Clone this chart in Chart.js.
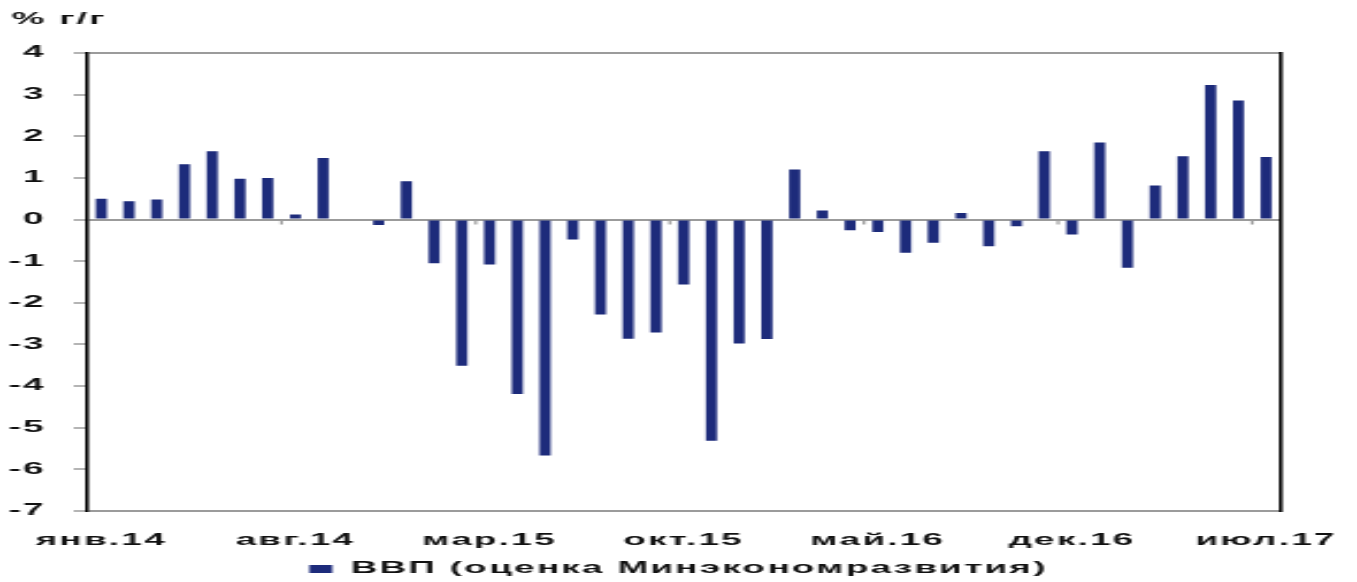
<!DOCTYPE html>
<html lang="ru">
<head>
<meta charset="utf-8">
<title>ВВП, % г/г</title>
<script src="https://cdn.jsdelivr.net/npm/chart.js@4.4.1/dist/chart.umd.min.js"></script>
<style>
  html, body { margin: 0; padding: 0; background: #fff; overflow: hidden; }
  /* the chart is drawn narrow and stretched sideways, like the wide exported picture */
  #wrap { width: 590px; height: 587px; transform: scaleX(2.3); transform-origin: 0 0; }
</style>
</head>
<body>
<div id="wrap"><canvas id="gdpChart" width="590" height="587"></canvas></div>
<script>
// months Jan 2014 .. Jul 2017
var categories = [
  'янв.14', 'фев.14', 'мар.14', 'апр.14', 'май.14', 'июн.14', 'июл.14', 'авг.14', 'сен.14', 'окт.14', 'ноя.14', 'дек.14',
  'янв.15', 'фев.15', 'мар.15', 'апр.15', 'май.15', 'июн.15', 'июл.15', 'авг.15', 'сен.15', 'окт.15', 'ноя.15', 'дек.15',
  'янв.16', 'фев.16', 'мар.16', 'апр.16', 'май.16', 'июн.16', 'июл.16', 'авг.16', 'сен.16', 'окт.16', 'ноя.16', 'дек.16',
  'янв.17', 'фев.17', 'мар.17', 'апр.17', 'май.17', 'июн.17', 'июл.17'
];

// GDP estimate, % y/y
var gdp = [
  0.50, 0.44, 0.48, 1.33, 1.64, 0.98, 1.00, 0.12, 1.48, 0.00, -0.13, 0.92,
  -1.05, -3.51, -1.08, -4.19, -5.67, -0.48, -2.28, -2.86, -2.71, -1.56, -5.31, -2.98,
  -2.87, 1.20, 0.22, -0.26, -0.30, -0.80, -0.56, 0.16, -0.64, -0.16, 1.64, -0.36,
  1.85, -1.16, 0.82, 1.52, 3.23, 2.86, 1.50
];

// only every 7th month gets a label
var labelStep = 7;
var yTicks = [4, 3, 2, 1, 0, -1, -2, -3, -4, -5, -6, -7];

var seriesName = 'ВВП (оценка Минэкономразвития)';
var unitLabel = '% г/г';

var barColor = '#1d2b7b';
var lineGrey = '#9b9b9b';
var fontFamily = '"Liberation Sans", Arial, sans-serif';

Chart.defaults.font.family = fontFamily;
Chart.defaults.font.size = 16;
Chart.defaults.font.weight = 'bold';
Chart.defaults.color = '#111';

// wider letter spacing for all canvas text
var spacing = {
  id: 'spacing',
  beforeUpdate: function (chart) { chart.ctx.letterSpacing = '1px'; },
  beforeDraw: function (chart) { chart.ctx.letterSpacing = '1px'; }
};

// unit caption in the top-left corner
var unitCaption = {
  id: 'unitCaption',
  afterDraw: function (chart) {
    var ctx = chart.ctx;
    ctx.save();
    ctx.font = 'bold 16px ' + fontFamily;
    ctx.fillStyle = '#111';
    ctx.textBaseline = 'middle';
    ctx.textAlign = 'left';
    ctx.fillText(unitLabel, 5, 20);
    ctx.restore();
  }
};

// little tick marks on the zero line between month groups
var zeroTicks = {
  id: 'zeroTicks',
  afterDatasetsDraw: function (chart) {
    var x = chart.scales.x, y = chart.scales.y, ctx = chart.ctx;
    var y0 = y.getPixelForValue(0);
    ctx.save();
    ctx.strokeStyle = lineGrey;
    ctx.lineWidth = 1.2;
    for (var i = labelStep; i < categories.length; i += labelStep) {
      var bx = (x.getPixelForValue(i - 1) + x.getPixelForValue(i)) / 2;
      ctx.beginPath();
      ctx.moveTo(bx, y0);
      ctx.lineTo(bx, y0 + 5);
      ctx.stroke();
    }
    ctx.restore();
  }
};

var ctx = document.getElementById('gdpChart').getContext('2d');
var gdpChart = new Chart(ctx, {
  type: 'bar',
  data: {
    labels: categories,
    datasets: [{
      label: seriesName,
      data: gdp,
      backgroundColor: barColor,
      borderWidth: 0,
      barPercentage: 0.4,
      categoryPercentage: 1.0
    }]
  },
  options: {
    responsive: false,
    animation: false,
    layout: { padding: { top: 53, left: 0, right: 0, bottom: 0 } },
    plugins: {
      tooltip: { enabled: false },
      legend: {
        position: 'bottom',
        labels: {
          boxWidth: 10,
          boxHeight: 8,
          padding: 10,
          color: '#111',
          font: { size: 16, weight: 'bold' }
        }
      }
    },
    scales: {
      x: {
        offset: true,
        afterFit: function (scale) {
          scale.height = 40;
          // let the end labels hang past the plot edges
          scale.paddingLeft = 0;
          scale.paddingRight = 0;
        },
        grid: { display: false, drawTicks: false },
        border: { display: false },
        ticks: {
          autoSkip: false,
          maxRotation: 0,
          minRotation: 0,
          padding: 20,
          callback: function (value, index) {
            return index % labelStep === 0 ? categories[index] : '';
          }
        }
      },
      y: {
        min: -7,
        max: 4,
        afterFit: function (scale) { scale.width = 38; },
        afterBuildTicks: function (scale) {
          scale.ticks = yTicks.map(function (v) { return { value: v }; });
        },
        grid: {
          color: function (c) {
            var v = c.tick && c.tick.value;
            return (v === 4 || v === 0 || v === -7) ? lineGrey : 'rgba(0,0,0,0)';
          },
          lineWidth: 2,
          tickLength: 6,
          tickColor: lineGrey,
          tickWidth: 1.5
        },
        border: { color: '#000', width: 1.6 },
        ticks: { padding: 12, color: '#111' }
      },
      yRight: {
        position: 'right',
        min: -7,
        max: 4,
        afterFit: function (scale) { scale.width = 33.5; },
        grid: { drawOnChartArea: false, drawTicks: false },
        border: { color: '#000', width: 1.6 },
        ticks: { display: false }
      }
    }
  },
  plugins: [spacing, unitCaption, zeroTicks]
});
</script>
</body>
</html>
